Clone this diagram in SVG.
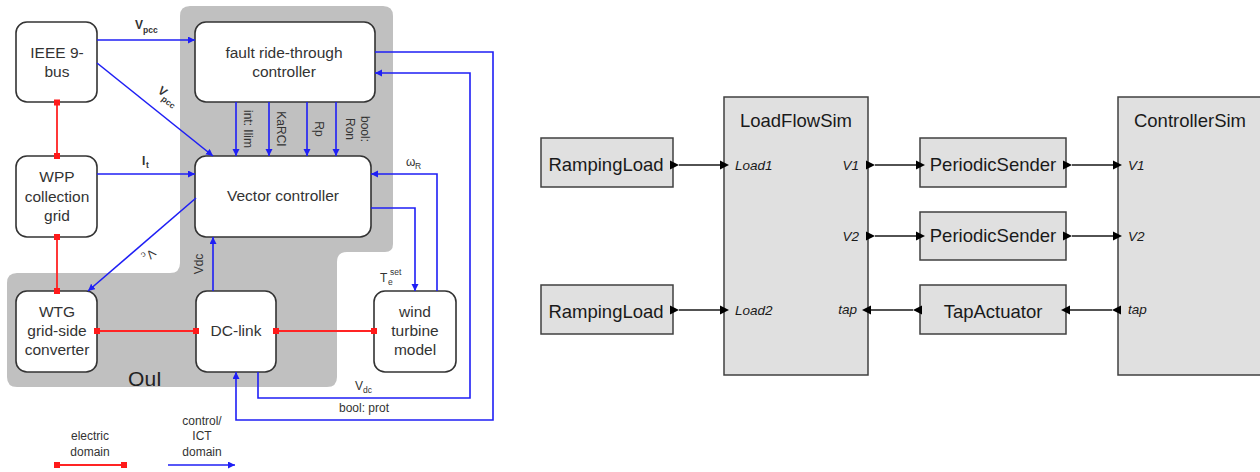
<svg xmlns="http://www.w3.org/2000/svg" width="1260" height="472" viewBox="0 0 1260 472">
<style>
.bx{fill:#fff;stroke:#333;stroke-width:1.6}
.t{font-family:"Liberation Sans",Arial,sans-serif;font-size:15.5px;fill:#333;text-anchor:middle}
.l{font-family:"Liberation Sans",Arial,sans-serif;font-size:12px;fill:#333}
.s{font-family:"Liberation Sans",Arial,sans-serif;font-size:8.5px;fill:#333}
.bl{fill:none;stroke:#1f1ff5;stroke-width:1.6}
.rd{fill:none;stroke:#ff2424;stroke-width:1.8}
.dot{fill:#ff1a1a}
.rb{fill:#e0e0e0;stroke:#404040;stroke-width:1.5}
.rt{font-family:"Liberation Sans",Arial,sans-serif;font-size:18.5px;fill:#1a1a1a;text-anchor:middle}
.pl{font-family:"Liberation Sans",Arial,sans-serif;font-size:13.5px;font-style:italic;fill:#1a1a1a}
.ln{stroke:#1a1a1a;stroke-width:1.4;fill:none}
.tri{fill:#000}
</style>
<defs>
<marker id="ab" markerUnits="userSpaceOnUse" markerWidth="9" markerHeight="8" refX="7" refY="3.5" orient="auto">
<path d="M0,0 L7,3.5 L0,7 Z" fill="#1f1ff5"/>
</marker>
</defs>
<path d="M 190 6 H 383 Q 393 6 393 16 V 244 Q 393 252 385 252 H 347 Q 337 252 337 262 V 377 Q 337 387 327 387 H 17 Q 7 387 7 377 V 283 Q 7 273 17 273 H 170 Q 180 273 180 263 V 16 Q 180 6 190 6 Z" fill="#c0c0c0"/>
<text class="t" x="145" y="386" style="font-size:21px;fill:#222">OuI</text>
<g id="ieee"><rect class="bx" x="16" y="22" width="81" height="80" rx="11"/><text class="t" x="57" y="58">IEEE 9-</text><text class="t" x="57" y="77">bus</text></g>
<g id="frt"><rect class="bx" x="195" y="22" width="180" height="80" rx="11"/><text class="t" x="284" y="58">fault ride-through</text><text class="t" x="284" y="77">controller</text></g>
<g id="wpp"><rect class="bx" x="16" y="156" width="81" height="81" rx="11"/><text class="t" x="57" y="182">WPP</text><text class="t" x="57" y="202">collection</text><text class="t" x="57" y="221">grid</text></g>
<g id="vc"><rect class="bx" x="195" y="156" width="176" height="81" rx="11"/><text class="t" x="283" y="201">Vector controller</text></g>
<g id="wtg"><rect class="bx" x="16" y="291" width="81" height="81" rx="11"/><text class="t" x="57" y="317">WTG</text><text class="t" x="57" y="336">grid-side</text><text class="t" x="57" y="355">converter</text></g>
<g id="dclink"><rect class="bx" x="196" y="291" width="80" height="81" rx="11"/><text class="t" x="236" y="336">DC-link</text></g>
<g id="wtm"><rect class="bx" x="374" y="291" width="82" height="81" rx="11"/><text class="t" x="415" y="317">wind</text><text class="t" x="415" y="336">turbine</text><text class="t" x="415" y="355">model</text></g>
<g id="connectors-left">
<path class="rd" d="M 57 102 V 156 M 57 237 V 291 M 97 331 H 196 M 276 331 H 374 M 57 465 H 124"/>
<g class="dot"><rect x="54" y="99.5" width="6" height="6"/><rect x="54" y="153" width="6" height="6"/><rect x="54" y="234" width="6" height="6"/><rect x="54" y="288" width="6" height="6"/><rect x="94" y="328" width="6" height="6"/><rect x="193" y="328" width="6" height="6"/><rect x="273" y="328" width="6" height="6"/><rect x="371" y="328" width="6" height="6"/><rect x="54" y="462" width="6" height="6"/><rect x="121" y="462" width="6" height="6"/></g>
<path class="bl" marker-end="url(#ab)" d="M 97 40 H 195"/>
<path class="bl" marker-end="url(#ab)" d="M 97 63 L 213 156"/>
<path class="bl" marker-end="url(#ab)" d="M 97 174 H 195"/>
<path class="bl" marker-end="url(#ab)" d="M 196 198 L 88 291"/>
<path class="bl" marker-end="url(#ab)" d="M 213 291 V 237"/>
<path class="bl" marker-end="url(#ab)" d="M 236 102 V 156"/>
<path class="bl" marker-end="url(#ab)" d="M 269 102 V 156"/>
<path class="bl" marker-end="url(#ab)" d="M 307 102 V 156"/>
<path class="bl" marker-end="url(#ab)" d="M 336 102 V 156"/>
<path class="bl" marker-end="url(#ab)" d="M 375 52 H 493 V 420 H 236 V 372"/>
<path class="bl" marker-end="url(#ab)" d="M 258 372 V 398 H 470 V 73 H 375"/>
<path class="bl" marker-end="url(#ab)" d="M 437 291 V 174 H 371"/>
<path class="bl" marker-end="url(#ab)" d="M 371 208 H 415 V 291"/>
<path class="bl" marker-end="url(#ab)" d="M 168 465 H 235"/>
</g>
<g id="labels-left">
<text class="l" x="135" y="29" style="font-weight:bold">V</text><text class="s" x="143" y="33" style="font-weight:bold">pcc</text>
<g transform="translate(157,92) rotate(38)"><text class="l" x="0" y="0" style="font-weight:bold">V</text><text class="s" x="8" y="4" style="font-weight:bold">pcc</text></g>
<text class="l" x="142" y="165" style="font-weight:bold">I</text><text class="s" x="146" y="168" style="font-weight:bold">t</text>
<g transform="translate(151,254) rotate(140)"><text class="l" x="-4" y="4">V</text><text class="s" x="4" y="7">c</text></g>
<text class="l" transform="translate(203,264) rotate(-90)" text-anchor="middle">Vdc</text>
<text class="l" transform="translate(244,129) rotate(90)" text-anchor="middle">int: Ilim</text>
<text class="l" transform="translate(277,129) rotate(90)" text-anchor="middle">KaRCI</text>
<text class="l" transform="translate(315,129) rotate(90)" text-anchor="middle">Rp</text>
<text class="l" transform="translate(361,129) rotate(90)" text-anchor="middle">bool:</text>
<text class="l" transform="translate(346,129) rotate(90)" text-anchor="middle">Ron</text>
<text class="l" x="406" y="166">ω</text><text class="s" x="415" y="169">R</text>
<text class="l" x="380" y="282">T</text><text class="s" x="388" y="285">e</text><text class="s" x="390" y="275">set</text>
<text class="l" x="355" y="390">V</text><text class="s" x="363" y="393">dc</text>
<text class="l" x="364" y="412" text-anchor="middle">bool: prot</text>
<text class="l" x="90" y="440" text-anchor="middle">electric</text><text class="l" x="90" y="456" text-anchor="middle">domain</text>
<text class="l" x="202" y="425" text-anchor="middle">control/</text><text class="l" x="202" y="440" text-anchor="middle">ICT</text><text class="l" x="202" y="456" text-anchor="middle">domain</text>
</g>
<g id="lfs"><rect class="rb" x="724" y="97" width="144" height="278"/><text class="rt" x="796" y="127">LoadFlowSim</text>
<text class="pl" x="735" y="170">Load1</text><text class="pl" x="735" y="315">Load2</text>
<text class="pl" x="859" y="170" text-anchor="end">V1</text><text class="pl" x="859" y="241" text-anchor="end">V2</text><text class="pl" x="857" y="314" text-anchor="end">tap</text></g>
<g id="csim"><rect class="rb" x="1118" y="97" width="150" height="278"/><text class="rt" x="1190" y="127">ControllerSim</text>
<text class="pl" x="1128" y="170">V1</text><text class="pl" x="1128" y="241">V2</text><text class="pl" x="1128" y="314">tap</text></g>
<g id="ramp1"><rect class="rb" x="541" y="138" width="132" height="49"/><text class="rt" x="606" y="171">RampingLoad</text></g>
<g id="ramp2"><rect class="rb" x="541" y="285" width="132" height="49"/><text class="rt" x="606" y="318">RampingLoad</text></g>
<g id="ps1"><rect class="rb" x="920" y="138" width="146" height="49"/><text class="rt" x="993" y="171">PeriodicSender</text></g>
<g id="ps2"><rect class="rb" x="920" y="212" width="146" height="48"/><text class="rt" x="993" y="242">PeriodicSender</text></g>
<g id="tap"><rect class="rb" x="920" y="285" width="146" height="49"/><text class="rt" x="993" y="318">TapActuator</text></g>
<g id="connectors-right">
<path class="ln" d="M 679 165 H 720 M 875 165 H 916 M 1072 165 H 1113 M 875 236 H 916 M 1072 236 H 1113 M 679 310 H 720 M 871 310 H 913 M 1070 310 H 1112"/>
<g class="tri">
<polygon points="670,160.5 679,165 670,169.5"/><polygon points="720,160.5 729,165 720,169.5"/>
<polygon points="866,160.5 875,165 866,169.5"/><polygon points="916,160.5 925,165 916,169.5"/>
<polygon points="1063,160.5 1072,165 1063,169.5"/><polygon points="1113,160.5 1122,165 1113,169.5"/>
<polygon points="866,231.5 875,236 866,240.5"/><polygon points="916,231.5 925,236 916,240.5"/>
<polygon points="1063,231.5 1072,236 1063,240.5"/><polygon points="1113,231.5 1122,236 1113,240.5"/>
<polygon points="670,305.5 679,310 670,314.5"/><polygon points="720,305.5 729,310 720,314.5"/>
<polygon points="871,305.5 862,310 871,314.5"/><polygon points="922,305.5 913,310 922,314.5"/>
<polygon points="1070,305.5 1061,310 1070,314.5"/><polygon points="1121,305.5 1112,310 1121,314.5"/>
</g>
</g>
</svg>
